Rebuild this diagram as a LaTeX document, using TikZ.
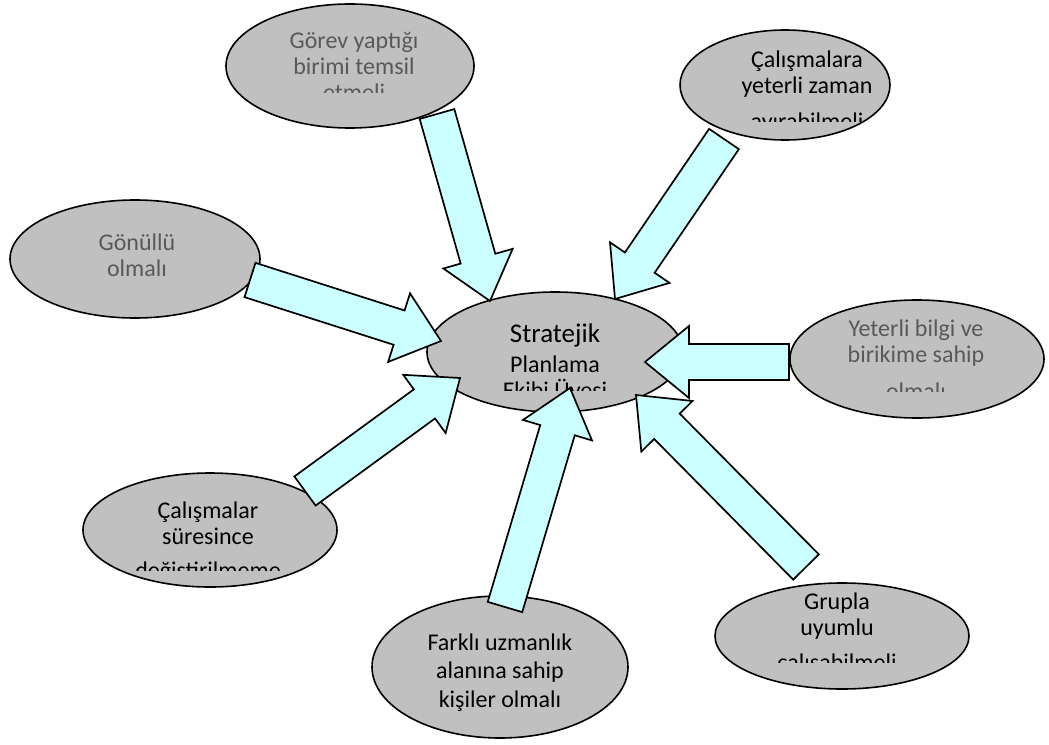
\documentclass[tikz,border=0pt]{standalone}
\usepackage{fontspec}
\setmainfont{Carlito}
\usetikzlibrary{calc,shapes.geometric}

\definecolor{bubblegray}{HTML}{C0C0C0}
\definecolor{arrowcyan}{HTML}{CCFFFF}
\definecolor{softtext}{HTML}{595959}

\newcommand{\blockarrow}[2]{%
\coordinate (hb) at ($(#2)!44pt!(#1)$);
\draw [barrow] ($(#1)!18pt!90:(#2)$) -- ($(hb)!18pt!90:(#2)$) -- ($(hb)!36pt!90:(#2)$) -- (#2)
  -- ($(hb)!36pt!-90:(#2)$) -- ($(hb)!18pt!-90:(#2)$) -- ($(#1)!18pt!-90:(#2)$) -- cycle;}

\begin{document}
\begin{tikzpicture}[x=1pt,y=-1pt,
  bubble/.style={ellipse,draw=black,fill=bubblegray,line width=1.6pt,inner sep=0pt},
  txt/.style={align=center,anchor=base,inner sep=0pt,font=\fontsize{24}{26}\selectfont},
  barrow/.style={draw=black,fill=arrowcyan,line width=1.7pt,line join=miter}]
\useasboundingbox (0,0) rectangle (1049,744);
\node [bubble,minimum width=248,minimum height=124] (gorev) at (350,66) {};
\node [bubble,minimum width=210,minimum height=110] (zaman) at (785,85) {};
\node [bubble,minimum width=250,minimum height=118] (gonullu) at (135,259) {};
\node [bubble,minimum width=256,minimum height=120] (ekip) at (555,352) {};
\node [bubble,minimum width=254,minimum height=118] (bilgi) at (917,359) {};
\node [bubble,minimum width=254,minimum height=114] (degis) at (210,530) {};
\node [bubble,minimum width=256,minimum height=142] (uzman) at (500,667) {};
\node [bubble,minimum width=254,minimum height=106] (uyum) at (842,636) {};
\begin{scope}
\clip (0,0) rectangle (1049,92);
\node [txt,text=softtext] (gorevtxt) at (354,100) {Görev yaptığı\\birimi temsil\\[0pt]etmeli};
\end{scope}
\begin{scope}
\clip (0,0) rectangle (1049,121);
\node [txt] (zamantxt) at (807,129) {Çalışmalara\\yeterli zaman\\[10pt]ayırabilmeli};
\end{scope}
\node [txt,text=softtext] (gonullutxt) at (137,276) {Gönüllü\\olmalı};
\begin{scope}
\clip (0,0) rectangle (1049,390);
\node [txt,font=\fontsize{24}{30}\selectfont] (ekiptxt) at (555,398) {{\fontsize{27}{30}\selectfont Stratejik}\\Planlama\\[-4pt]Ekibi Üyesi};
\end{scope}
\begin{scope}
\clip (0,0) rectangle (1049,391);
\node [txt,text=softtext] (bilgitxt) at (916,399) {Yeterli bilgi ve\\birikime sahip\\[11pt]olmalı};
\end{scope}
\begin{scope}
\clip (0,0) rectangle (1049,570);
\node [txt] (degistxt) at (208,578) {Çalışmalar\\süresince\\[8pt]değiştirilmeme};
\end{scope}
\node [txt,font=\fontsize{24}{28.5}\selectfont] (uzmantxt) at (500,707) {Farklı uzmanlık\\alanına sahip\\kişiler olmalı};
\begin{scope}
\clip (0,0) rectangle (1049,662);
\node [txt] (uyumtxt) at (837,670) {Grupla\\uyumlu\\[9pt]çalışabilmeli};
\end{scope}
\coordinate (a1) at (437,114);
\coordinate (b1) at (490,301);
\coordinate (a2) at (724,139);
\coordinate (b2) at (615,299);
\coordinate (a3) at (250,280);
\coordinate (b3) at (441,341);
\coordinate (a4) at (789,362);
\coordinate (b4) at (645,362);
\coordinate (a5) at (305,491);
\coordinate (b5) at (460,378);
\coordinate (a6) at (505,607);
\coordinate (b6) at (570,388);
\coordinate (a7) at (806,567);
\coordinate (b7) at (636,395);
\blockarrow{a1}{b1}
\blockarrow{a2}{b2}
\blockarrow{a3}{b3}
\blockarrow{a4}{b4}
\blockarrow{a5}{b5}
\blockarrow{a6}{b6}
\blockarrow{a7}{b7}
\end{tikzpicture}
\end{document}
